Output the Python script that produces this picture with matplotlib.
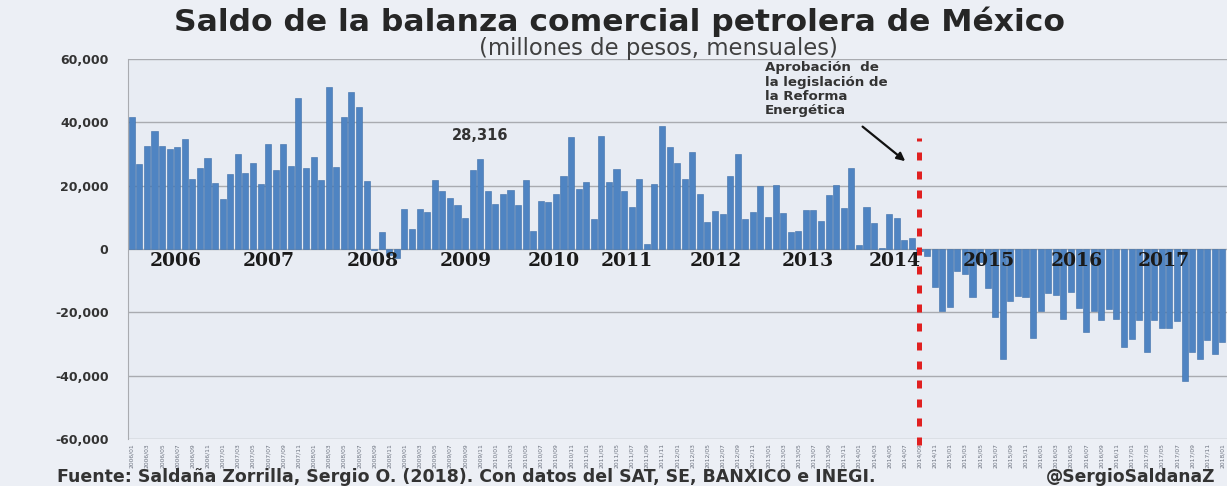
import matplotlib
matplotlib.use("Agg")
import matplotlib.pyplot as plt
import numpy as np

# ---------------- data ----------------
years = list(range(2006, 2019))
months = [f"{y}/{m:02d}" for y in years for m in range(1, 13)][:145]

saldo_2006 = [41800, 26800, 32500, 37400, 32500, 31600, 32100, 34700, 22000, 25500, 28600, 20900]
saldo_2007 = [15700, 23800, 29900, 24100, 27100, 20600, 33300, 25000, 33100, 26300, 47600, 25600]
saldo_2008 = [28900, 21800, 51000, 26000, 41600, 49500, 44700, 21500, -300, 5300, -1800, -2800]
saldo_2009 = [12500, 6300, 12500, 11600, 21700, 18400, 16200, 14000, 9900, 25000, 28316, 18400]
saldo_2010 = [14200, 17400, 18700, 14000, 21900, 5700, 15300, 14900, 17500, 22900, 35500, 19000]
saldo_2011 = [21300, 9400, 35800, 21300, 25200, 18400, 13400, 22000, 1500, 20500, 38900, 32100]
saldo_2012 = [27300, 22000, 30700, 17300, 8600, 12100, 11000, 23100, 30000, 9400, 11800, 19900]
saldo_2013 = [10200, 20300, 11300, 5500, 5700, 12300, 12400, 8800, 17100, 20300, 12800, 25500]
saldo_2014 = [1300, 13400, 8100, 200, 11100, 9900, 2800, 3600, -500, -2200, -12100, -19600]
saldo_2015 = [-18400, -7000, -7900, -15000, -4000, -12400, -21600, -34600, -16300, -14800, -15100, -28200]
saldo_2016 = [-19700, -13800, -14500, -22100, -13500, -18700, -26100, -19500, -22400, -19000, -22200, -30900]
saldo_2017 = [-28500, -22300, -32500, -22400, -25100, -25100, -22800, -41700, -32500, -34800, -28700, -33000]
saldo_2018 = [-29300]

saldo = (saldo_2006 + saldo_2007 + saldo_2008 + saldo_2009 + saldo_2010 + saldo_2011 +
         saldo_2012 + saldo_2013 + saldo_2014 + saldo_2015 + saldo_2016 + saldo_2017 + saldo_2018)

year_labels = [str(y) for y in range(2006, 2018)]
highlight_month = "2009/11"
highlight_text = "28,316"
reform_month = "2014/09"
yticks = [-60000, -40000, -20000, 0, 20000, 40000, 60000]

title = "Saldo de la balanza comercial petrolera de México"
subtitle = "(millones de pesos, mensuales)"
annotation = "Aprobación  de\nla legislación de\nla Reforma\nEnergética"
source = "Fuente: Saldaña Zorrilla, Sergio O. (2018). Con datos del SAT, SE, BANXICO e INEGI."
handle = "@SergioSaldanaZ"

# ---------------- layout / style ----------------
W, H = 1227, 486
fig = plt.figure(figsize=(W / 100, H / 100), dpi=100)
bg = "#eceff5"
fig.patch.set_facecolor(bg)

ax = fig.add_axes([128 / W, 47 / H, 1 - 128 / W, 380 / H])
ax.set_facecolor("#e8ecf3")

x = np.arange(len(saldo))
ax.bar(x, saldo, width=0.8, color="#4f84c2", edgecolor="#3d6ea8", linewidth=0.4, zorder=3)

ax.set_ylim(-60000, 60000)
ax.set_xlim(-0.5, 144.6)
ax.set_yticks(yticks)
ax.set_yticklabels([f"{v:,}" for v in yticks], fontsize=9, fontweight="bold", color="#333333")
ax.yaxis.grid(True, color="#a9abb0", linewidth=1.0, zorder=1)
ax.tick_params(axis="y", length=0, pad=14)
for s in ["top", "right", "bottom"]:
    ax.spines[s].set_visible(False)
ax.spines["left"].set_color("#a9abb0")

# bimonthly tiny tick labels
ax.set_xticks(x[::2])
ax.set_xticklabels(months[::2], rotation=90, fontsize=4.3, color="#6d7380")
ax.tick_params(axis="x", length=0, pad=3)

# year labels along zero line (nudged as in the original)
nudge = [0.3, 0.6, 2.3, 2.6, 2.2, -0.1, -0.4, -0.3, -0.8, -0.4, -0.8, -1.3]
for i, lab in enumerate(year_labels):
    ax.text(12 * i + 5.5 + nudge[i], -3900, lab, ha="center", va="center",
            fontsize=13.5, fontweight="bold", family="DejaVu Serif", color="#1a1a1a", zorder=6)

# highlighted value
hi = months.index(highlight_month)
ax.annotate(highlight_text, xy=(hi, saldo[hi]), xytext=(0, 12), textcoords="offset points",
            ha="center", va="bottom", fontsize=10.5, fontweight="bold", color="#333333", zorder=6)

# reform line
ri = months.index(reform_month)
ax.plot([ri, ri], [-62000, 35000], color="#e02020", linewidth=3.6,
        linestyle=(0, (1.6, 2.2)), zorder=7, clip_on=False, solid_capstyle="butt",
        dash_capstyle="butt")

ax.text(83.6, 59300, annotation, ha="left", va="top", fontsize=9.6, fontweight="bold",
        color="#333333", linespacing=1.13, zorder=6)
ax.annotate("", xy=(102.4, 27200), xytext=(96.2, 39200),
            arrowprops=dict(arrowstyle="-|>", color="#111111", lw=1.6, mutation_scale=12), zorder=6)

t1 = fig.text(620 / W, 1 - 31 / H, title, ha="center", va="baseline", fontsize=21,
              fontweight="bold", color="#262626")
t2 = fig.text(658 / W, 1 - 48 / H, subtitle, ha="center", va="center", fontsize=14,
              color="#404040")
t3 = fig.text(57 / W, 1 - 477 / H, source, ha="left", va="center", fontsize=10,
              fontweight="bold", color="#333333")
t4 = fig.text(1215 / W, 1 - 477 / H, handle, ha="right", va="center", fontsize=10,
              fontweight="bold", color="#333333")

# fit text widths to the reference
fig.canvas.draw()
for t, target in [(t1, 890), (t2, 360), (t3, 823), (t4, 170)]:
    w = t.get_window_extent().width
    t.set_fontsize(t.get_fontsize() * target / w)

fig.savefig("out.png", dpi=100, facecolor=fig.get_facecolor())
